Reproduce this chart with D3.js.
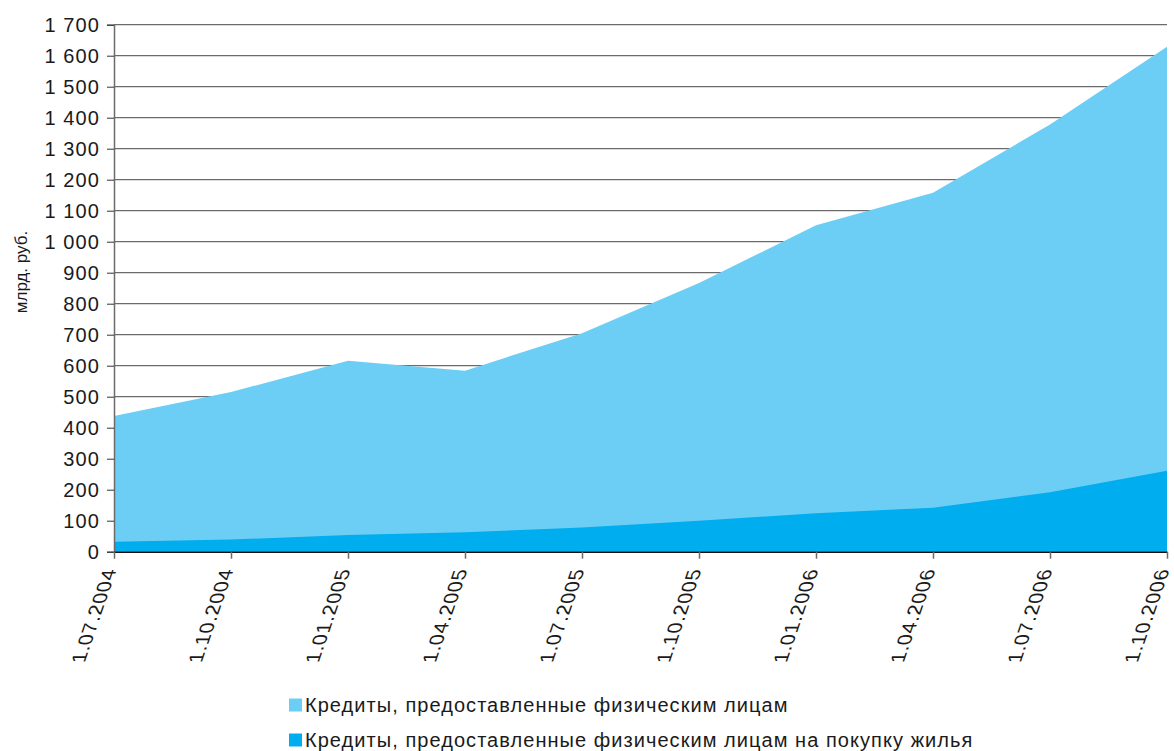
<!DOCTYPE html>
<html>
<head>
<meta charset="utf-8">
<script src="https://cdn.jsdelivr.net/npm/d3@7"></script>
<style>
  body { margin: 0; background: #fff; }
  text { font-family: "Liberation Sans", Arial, sans-serif; fill: #1a1a1a; }
</style>
</head>
<body>
<div id="chart"></div>
<script>
const dates = ["1.07.2004", "1.10.2004", "1.01.2005", "1.04.2005", "1.07.2005",
  "1.10.2005", "1.01.2006", "1.04.2006", "1.07.2006", "1.10.2006"];
// кредиты физлицам, всего
const totalLoans = [438, 515, 616, 584, 705, 867, 1053, 1158, 1378, 1629];
// из них на покупку жилья
const housingLoans = [32, 39, 54, 63, 78, 100, 124, 142, 192, 261];
const yTicks = d3.range(0, 1701, 100);
const seriesNames = ["Кредиты, предоставленные физическим лицам",
  "Кредиты, предоставленные физическим лицам на покупку жилья"];
const colors = ["#6dcef5", "#00adee"];

const width = 1174, height = 751;
const margin = { left: 114, right: 7, top: 24.7, bottom: 199.3 };

const svg = d3.select("#chart").append("svg")
  .attr("width", width).attr("height", height);

const x = d3.scalePoint().domain(dates)
  .range([margin.left, width - margin.right]);
const y = d3.scaleLinear().domain([0, 1700])
  .range([height - margin.bottom, margin.top]);

const fmt = d => d3.format(",")(d).replace(",", " ");

// grid
svg.append("g").selectAll("line")
  .data(yTicks.filter(d => d > 0))
  .join("line")
  .attr("x1", margin.left).attr("x2", width - margin.right)
  .attr("y1", d => y(d)).attr("y2", d => y(d))
  .attr("stroke", "#6b6b6b").attr("stroke-width", 1.3);

// areas (overlapping, not stacked)
const area = vals => d3.area()
  .x((d, i) => x(dates[i]))
  .y0(y(0))
  .y1(d => y(d))(vals);

svg.append("path").attr("d", area(totalLoans)).attr("fill", colors[0]);
svg.append("path").attr("d", area(housingLoans)).attr("fill", colors[1]);

// y axis
const yAxis = svg.append("g")
  .attr("transform", `translate(${margin.left},0)`)
  .call(d3.axisLeft(y).tickValues(yTicks).tickFormat(fmt).tickSize(7).tickPadding(7));
yAxis.select(".domain").attr("stroke", "#6b6b6b").attr("stroke-width", 1.5);
yAxis.selectAll(".tick line").attr("stroke", "#333");
yAxis.selectAll("text").attr("font-size", 20).attr("fill", "#1a1a1a")
  .attr("letter-spacing", 1.1)
  .attr("font-family", "Liberation Sans, Arial, sans-serif");

// x axis
const xAxis = svg.append("g")
  .attr("transform", `translate(0,${y(0)})`)
  .call(d3.axisBottom(x).tickSize(7).tickSizeOuter(0).tickFormat(""));
xAxis.select(".domain").attr("stroke", "#111").attr("stroke-width", 1.5);
xAxis.selectAll(".tick line").attr("stroke", "#6b6b6b").attr("stroke-width", 1.5);

// подписи дат: повернуты и скошены, как в оригинале
svg.append("g").selectAll("text")
  .data(dates)
  .join("text")
  .attr("transform", d => `translate(${x(d) + 3},${y(0) + 17}) rotate(-90) skewY(19)`)
  .attr("text-anchor", "end")
  .attr("font-size", 20)
  .attr("letter-spacing", 0.6)
  .text(d => d);

// y title
svg.append("text")
  .attr("transform", "translate(21,272) rotate(-90)")
  .attr("text-anchor", "middle")
  .attr("dy", "0.35em")
  .attr("font-size", 17)
  .text("млрд. руб.");

// legend
const legend = svg.append("g").selectAll("g")
  .data(seriesNames)
  .join("g")
  .attr("transform", (d, i) => `translate(289,${705 + i * 35})`);
legend.append("rect")
  .attr("x", 0).attr("y", -6.5).attr("width", 13).attr("height", 13)
  .attr("fill", (d, i) => colors[i]);
legend.append("text")
  .attr("x", 16).attr("dy", "0.35em")
  .attr("font-size", 20)
  .attr("letter-spacing", 1.05)
  .text(d => d);
</script>
</body>
</html>
